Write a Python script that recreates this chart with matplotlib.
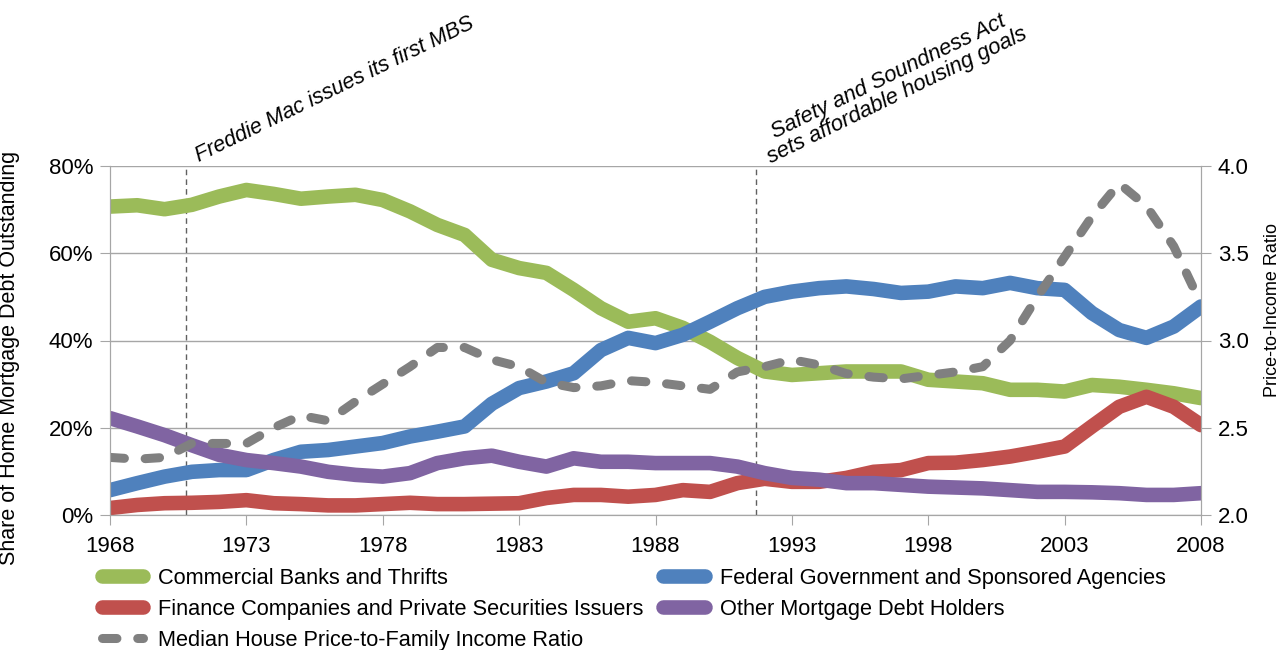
import numpy as np
import matplotlib.pyplot as plt

plt.rcParams['font.family'] = ['Liberation Sans', 'DejaVu Sans']

years = list(range(1968, 2009))

# share of home mortgage debt outstanding (%)
banks = [70.7, 71.0, 70.1, 71.1, 73.0, 74.5, 73.6, 72.5, 73.0, 73.4,
         72.2, 69.6, 66.5, 64.2, 58.5, 56.6, 55.5, 51.6, 47.4, 44.3,
         45.1, 42.9, 39.7, 36.0, 32.9, 32.1, 32.5, 32.9, 32.9, 32.9,
         31.0, 30.6, 30.2, 28.7, 28.7, 28.3, 29.8, 29.4, 28.7, 27.9, 26.8]
federal = [5.7, 7.3, 8.8, 9.9, 10.3, 10.3, 12.6, 14.5, 14.9, 15.7,
           16.5, 18.0, 19.1, 20.3, 25.5, 29.1, 30.6, 32.5, 37.8, 40.6,
           39.4, 41.3, 44.3, 47.4, 50.0, 51.2, 52.0, 52.4, 51.8, 50.9,
           51.2, 52.4, 52.0, 53.2, 52.0, 51.6, 46.3, 42.4, 40.6, 43.2, 47.8]
finance = [1.6, 2.3, 2.7, 2.8, 3.0, 3.4, 2.7, 2.5, 2.2, 2.2,
           2.5, 2.8, 2.5, 2.5, 2.6, 2.7, 3.9, 4.6, 4.6, 4.2,
           4.6, 5.7, 5.3, 7.3, 8.3, 7.6, 7.6, 8.5, 9.9, 10.3,
           11.9, 12.0, 12.6, 13.4, 14.5, 15.7, 20.3, 24.8, 27.1, 24.8, 20.6]
other = [22.2, 20.3, 18.3, 16.0, 13.8, 12.6, 11.9, 11.1, 9.9, 9.2,
         8.8, 9.6, 11.9, 13.0, 13.6, 12.2, 11.1, 13.0, 12.2, 12.2,
         11.9, 11.9, 11.9, 11.1, 9.6, 8.5, 8.1, 7.3, 7.3, 6.9,
         6.5, 6.3, 6.1, 5.7, 5.3, 5.3, 5.2, 5.0, 4.6, 4.6, 5.0]

# median house price-to-family income ratio
ratio = [2.33, 2.32, 2.33, 2.41, 2.41, 2.41, 2.50, 2.57, 2.54, 2.65,
         2.75, 2.85, 2.96, 2.96, 2.89, 2.85, 2.76, 2.73, 2.74, 2.77,
         2.76, 2.74, 2.72, 2.82, 2.85, 2.89, 2.86, 2.81, 2.79, 2.78,
         2.80, 2.82, 2.85, 3.00, 3.25, 3.48, 3.71, 3.90, 3.77, 3.54, 3.21]

fig = plt.figure(figsize=(12.86, 6.5), dpi=100)
ax = fig.add_axes([110/1286, 1-515/650, 1091/1286, 349/650])
ax2 = ax.twinx()

lw = 10.5
kw = dict(lw=lw, solid_capstyle='round', solid_joinstyle='round')
l_banks, = ax.plot(years, banks, color='#9BBB59', label='Commercial Banks and Thrifts', **kw)
l_fed, = ax.plot(years, federal, color='#4F81BD', label='Federal Government and Sponsored Agencies', **kw)
l_fin, = ax.plot(years, finance, color='#C0504D', label='Finance Companies and Private Securities Issuers', **kw)
l_oth, = ax.plot(years, other, color='#8064A2', label='Other Mortgage Debt Holders', **kw)
l_rat, = ax2.plot(years, ratio, color='#808080', lw=6.5, dashes=(1.6, 2.3),
                  dash_capstyle='round', dash_joinstyle='round',
                  label='Median House Price-to-Family Income Ratio')

ax.set_xlim(1968, 2008)
ax.set_ylim(0, 80)
ax2.set_ylim(2.0, 4.0)
ax.set_xticks(range(1968, 2009, 5))
ax.set_yticks([0, 20, 40, 60, 80])
ax.set_yticklabels(['0%', '20%', '40%', '60%', '80%'])
ax2.set_yticks([2.0, 2.5, 3.0, 3.5, 4.0])
ax2.set_yticklabels(['2.0', '2.5', '3.0', '3.5', '4.0'])

ax.grid(axis='y', color='#A6A6A6', lw=1)
ax.set_axisbelow(True)
for a in (ax, ax2):
    a.spines['top'].set_visible(False)
    for s in ('left', 'right', 'bottom'):
        a.spines[s].set_color('#A6A6A6')
    a.tick_params(colors='#A6A6A6', labelcolor='black', labelsize=16, length=7)
ax.tick_params(axis='x', pad=8)
ax.tick_params(axis='y', pad=5)
ax2.tick_params(axis='y', pad=5)

ax.set_ylabel('Share of Home Mortgage Debt Outstanding', fontsize=15.5)
ax.yaxis.set_label_coords(-0.0825, 0.45)
ax2.set_ylabel('Price-to-Income Ratio', fontsize=13, rotation=90)
ax2.yaxis.set_label_coords(1.058, 0.587)

# event markers
for yr in (1970.8, 1991.7):
    ax.axvline(yr, color='#606060', lw=1, ls=(0, (4, 3)), zorder=1)
fig.text(335/1286, 1-90/650, 'Freddie Mac issues its first MBS', fontsize=15.5,
         style='italic', rotation=26, ha='center', va='center', rotation_mode='anchor')
fig.text(893/1286, 1-86/650, 'Safety and Soundness Act\nsets affordable housing goals',
         fontsize=15.8, style='italic', rotation=26, ha='center', va='center',
         rotation_mode='anchor', linespacing=1.0)

fig.legend(handles=[l_banks, l_fin, l_rat, l_fed, l_oth], ncol=2,
           loc='upper left', bbox_to_anchor=(102/1286, 1-568/650), frameon=False,
           fontsize=15.7, handlelength=1.9, handletextpad=0.68, columnspacing=0.9,
           labelspacing=0.45, borderpad=0, borderaxespad=0)

fig.savefig('out.png', dpi=100)
